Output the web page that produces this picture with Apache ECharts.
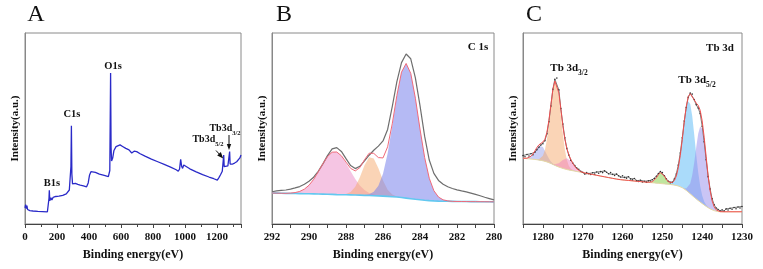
<!DOCTYPE html>
<html>
<head>
<meta charset="utf-8">
<script src="https://cdn.jsdelivr.net/npm/echarts@6/dist/echarts.min.js"></script>
<style>
  html, body { margin: 0; padding: 0; background: #fff; }
  #main { width: 763px; height: 269px; }
</style>
</head>
<body>
<div id="main"></div>
<script>
// ---- A: survey spectrum, [binding energy eV, intensity] ----
const surveyA = [
  [0, 8.5], [4, 10.2], [8, 8.1], [12, 9.6], [16, 7.6], [22, 8.2], [30, 7.0], [50, 6.8], [80, 6.6],
  [110, 6.5], [140, 6.4], [148, 6.6], [150, 13.5], [152, 17.6], [155, 12.2], [158, 11.6], [162, 13.8],
  [168, 12.6], [176, 14.0], [184, 13.2], [192, 14.4], [200, 13.9], [212, 14.6], [224, 14.2], [236, 15.0],
  [248, 14.8], [258, 15.8], [268, 16.6], [277, 17.8], [283, 18.6], [287, 30], [290, 51.5], [293, 26],
  [297, 21], [302, 21.8], [315, 21.3], [330, 20.8], [345, 20.4], [365, 20.0], [385, 19.5], [395, 21.5],
  [403, 25.5], [412, 27.4], [420, 27.8], [440, 27.0], [465, 26.1], [495, 25.4], [521, 24.8], [527, 25.2],
  [530, 28], [535, 79], [538, 40], [541, 33], [548, 34.5], [556, 38.5], [569, 40.5], [580, 41.0],
  [594, 41.4], [610, 40.6], [630, 39.6], [650, 38.8], [667, 37.2], [682, 38.1], [698, 37.9], [720, 36.8],
  [750, 35.5], [790, 34.0], [830, 32.6], [870, 31.2], [910, 29.8], [945, 28.4], [958, 27.6], [966, 28.8],
  [973, 33.9], [979, 30.2], [985, 29.1], [992, 30.9], [1000, 30.3], [1030, 28.9], [1070, 27.3],
  [1110, 25.9], [1150, 24.6], [1180, 23.7], [1202, 23.0], [1212, 24.3], [1222, 25.8], [1233, 27.6],
  [1238, 28.2], [1242, 36.1], [1245, 30.0], [1255, 30.1], [1268, 30.4], [1276, 30.8], [1279, 37.9],
  [1282, 31.4], [1295, 31.3], [1310, 31.9], [1323, 32.6], [1335, 33.4], [1343, 34.6], [1350, 36.1]
];
const ticksA = [0, 200, 400, 600, 800, 1000, 1200];

// ---- B: C 1s, sampled 292 -> 280 eV every 0.25 eV ----
const startB = 292, stepB = 0.25, countB = 49;
const rawB = [
  16.9, 17.3, 17.6, 17.8, 18.3, 18.9, 19.6, 20.8, 22.4, 24.5,
  27.6, 31.5, 35.8, 39.3, 40.0, 38.0, 34.2, 30.6, 29.0, 30.2,
  33.0, 36.0, 38.6, 40.8, 43.5, 49.5, 61.5, 74.5, 84.5, 89.0,
  86.5, 76.5, 62.0, 46.0, 33.5, 26.5, 22.8, 20.8, 19.5, 18.6,
  17.9, 17.3, 16.8, 16.2, 15.5, 14.8, 14.0, 13.3, 12.6
];
const bgB = [
  16.2, 16.15, 16.1, 16.05, 16.0, 15.95, 15.9, 15.85, 15.8, 15.75,
  15.7, 15.65, 15.6, 15.5, 15.4, 15.35, 15.3, 15.25, 15.2, 15.1,
  15.0, 14.9, 14.8, 14.7, 14.6, 14.45, 14.3, 14.1, 13.85, 13.55,
  13.25, 12.95, 12.7, 12.45, 12.25, 12.1, 12.0, 11.95, 11.9, 11.85,
  11.8, 11.78, 11.75, 11.72, 11.7, 11.68, 11.65, 11.62, 11.6
];
// fitted components, height above background, first value at the given energy
const pinkB = [0.20, 0.50, 1.16, 2.40, 4.49, 7.59, 11.6, 15.9, 19.7, 22.1, 22.3, 20.3, 16.7, 12.4, 8.32, 5.03, 2.74, 1.35, 0.60, 0.24, 0.09, 0.03];
const pinkBFrom = 291;
const orangeB = [0.08, 0.39, 1.48, 4.27, 9.39, 15.7, 20.1, 19.5, 14.5, 8.2, 3.53, 1.16, 0.29, 0.06];
const orangeBFrom = 288.25;
const blueB = [0.21, 0.71, 2.10, 5.33, 11.7, 22.4, 37.0, 52.9, 65.6, 70.5, 65.6, 52.9, 37.0, 22.4, 11.7, 5.33, 2.10, 0.71, 0.21];
const blueBFrom = 287;

// ---- C: Tb 3d, sampled 1285 -> 1230 eV every 0.5 eV ----
const startC = 1285, stepC = 0.5, countC = 111;
const rawC = [
  35.8, 35.2, 36.4, 35.6, 36.8, 36.2, 37.6, 38.9, 40.2, 41.4,
  42.0, 43.6, 47.2, 53.5, 61.8, 70.5, 75.8, 76.4, 70.2, 60.5,
  52.3, 45.1, 39.6, 36.1, 33.4, 31.9, 30.6, 29.3, 28.7, 27.6,
  27.1, 26.2, 27.0, 26.4, 25.9, 26.8, 26.1, 27.2, 26.6, 27.4,
  26.9, 27.8, 27.1, 26.3, 26.9, 26.0, 25.4, 26.1, 25.2, 24.6,
  25.3, 24.4, 24.0, 24.7, 23.6, 23.1, 23.8, 22.7, 22.3, 22.9,
  22.0, 22.4, 21.9, 22.6, 22.5, 23.2, 23.8, 25.0, 26.4, 27.5,
  27.0, 25.3, 23.6, 22.4, 21.6, 21.8, 23.5, 26.2, 30.8, 37.2,
  45.1, 53.9, 61.0, 66.3, 68.6, 68.0, 65.1, 62.4, 60.7, 57.8,
  51.2, 43.0, 33.6, 24.8, 18.3, 13.2, 10.1, 8.4, 7.6, 6.9,
  7.4, 6.8, 7.9, 7.3, 8.2, 7.7, 8.6, 8.0, 8.9, 8.4,
  9.2
];
const bgC = [
  34.4, 34.3, 34.2, 34.1, 34.0, 33.9, 33.8, 33.7, 33.5, 33.3,
  33.1, 32.8, 32.5, 32.1, 31.7, 31.2, 30.7, 30.2, 29.8, 29.4,
  29.1, 28.8, 28.5, 28.3, 28.1, 27.9, 27.7, 27.5, 27.3, 27.1,
  26.9, 26.7, 26.5, 26.3, 26.1, 25.9, 25.7, 25.5, 25.3, 25.1,
  24.9, 24.7, 24.5, 24.3, 24.1, 23.9, 23.7, 23.5, 23.4, 23.2,
  23.1, 23.0, 22.9, 22.8, 22.7, 22.6, 22.5, 22.4, 22.3, 22.2,
  22.1, 22.0, 21.9, 21.8, 21.7, 21.6, 21.5, 21.4, 21.3, 21.2,
  21.1, 21.0, 20.9, 20.8, 20.7, 20.6, 20.4, 20.2, 19.9, 19.5,
  19.0, 18.4, 17.6, 16.7, 15.8, 14.9, 14.0, 13.1, 12.3, 11.5,
  10.7, 9.9, 9.2, 8.5, 7.9, 7.4, 7.0, 6.7, 6.5, 6.4,
  6.4, 6.4, 6.4, 6.4, 6.4, 6.4, 6.4, 6.4, 6.4, 6.4,
  6.4
];
const smallC = [0.26, 0.66, 1.46, 2.75, 4.48, 6.3, 7.6, 8.0, 7.2, 5.6, 3.75, 2.17, 1.08, 0.47, 0.17, 0.06];
const smallCFrom = 1284;
const orangeC = [0.03, 0.10, 0.35, 1.03, 2.65, 5.95, 11.7, 19.9, 29.6, 38.5, 43.5, 42.9, 36.9, 27.7, 18.1, 10.3, 5.12, 2.22, 0.84, 0.28, 0.08, 0.02];
const orangeCFrom = 1282;
const pinkC = [0.22, 0.52, 1.07, 1.95, 3.12, 4.41, 5.47, 5.98, 5.76, 4.88, 3.64, 2.39, 1.38, 0.70, 0.31, 0.12, 0.04];
const pinkCFrom = 1277.5;
const greenC = [0.03, 0.15, 0.52, 1.37, 2.82, 4.54, 5.69, 5.54, 4.21, 2.49, 1.15, 0.41, 0.11, 0.02];
const greenCFrom = 1253.5;
const cyanC = [0.04, 0.12, 0.36, 0.95, 2.29, 4.92, 9.5, 16.4, 25.2, 34.8, 43.0, 47.6, 47.0, 41.7, 32.9, 23.3, 14.8, 8.4, 4.27, 1.94, 0.79, 0.29, 0.10, 0.03];
const cyanCFrom = 1249;
const lavC = [0.32, 0.94, 2.41, 5.41, 10.6, 18.1, 26.9, 35.0, 39.6, 39.0, 33.6, 25.2, 16.4, 9.37, 4.66, 2.02, 0.76, 0.25, 0.07, 0.02];
const lavCFrom = 1244.5;

// ---------------------------------------------------------------
const FONT = '"Liberation Serif", "Times New Roman", serif';
const eB = Array.from({ length: countB }, (_, i) => startB - stepB * i);
const eC = Array.from({ length: countC }, (_, i) => startC - stepC * i);

// put a component on the full energy grid (zero outside its range)
function place(grid, from, vals) {
  const i0 = grid.findIndex(e => Math.abs(e - from) < 1e-6);
  return grid.map((e, i) => (i >= i0 && i < i0 + vals.length) ? vals[i - i0] : 0);
}

const compsB = [
  { d: place(eB, pinkBFrom, pinkB), c: 'rgba(236,140,200,0.5)' },
  { d: place(eB, orangeBFrom, orangeB), c: 'rgba(245,170,110,0.5)' },
  { d: place(eB, blueBFrom, blueB), c: 'rgba(120,130,235,0.55)' }
];
const compsC = [
  { d: place(eC, smallCFrom, smallC), c: 'rgba(140,150,235,0.45)' },
  { d: place(eC, orangeCFrom, orangeC), c: 'rgba(245,170,110,0.5)' },
  { d: place(eC, pinkCFrom, pinkC), c: 'rgba(240,130,190,0.5)' },
  { d: place(eC, greenCFrom, greenC), c: 'rgba(140,210,80,0.55)' },
  { d: place(eC, cyanCFrom, cyanC), c: 'rgba(100,190,245,0.55)' },
  { d: place(eC, lavCFrom, lavC), c: 'rgba(150,140,235,0.5)' }
];
// envelope = background + sum of components
const fitB = bgB.map((b, i) => b + compsB.reduce((s, k) => s + k.d[i], 0));
const fitC = bgC.map((b, i) => b + compsC.reduce((s, k) => s + k.d[i], 0));

const grids = [
  { left: 25, top: 33, width: 216, height: 191 },
  { left: 272, top: 33, width: 222, height: 191 },
  { left: 523, top: 33, width: 219, height: 191 }
];

const labelStyle = { color: '#111', fontFamily: FONT, fontWeight: 'bold', fontSize: 11 };
const nameStyle = { color: '#111', fontFamily: FONT, fontWeight: 'bold', fontSize: 12 };

function xCat(gi, grid, labelEvery, tickEvery) {
  return {
    gridIndex: gi, type: 'category', boundaryGap: false,
    data: grid.map(String),
    axisLine: { lineStyle: { color: '#444', width: 1 } },
    axisTick: { length: 4, interval: (i, v) => Number(v) % tickEvery === 0, lineStyle: { color: '#444' } },
    axisLabel: { interval: (i, v) => Number(v) % labelEvery === 0, margin: 8, ...labelStyle },
    splitLine: { show: false },
    name: 'Binding energy(eV)', nameLocation: 'middle', nameGap: 25, nameTextStyle: nameStyle
  };
}

function yAx(gi) {
  return {
    gridIndex: gi, type: 'value', min: 0, max: 100,
    axisLine: { show: true, lineStyle: { color: '#888' } },
    axisTick: { show: false }, axisLabel: { show: false }, splitLine: { show: false },
    name: 'Intensity(a.u.)', nameLocation: 'middle', nameGap: 4, nameTextStyle: { ...nameStyle, fontSize: 11 }
  };
}

const series = [];
series.push({
  type: 'line', xAxisIndex: 0, yAxisIndex: 0, data: surveyA, symbol: 'none',
  lineStyle: { color: '#2a2ac8', width: 1.3 }
});

function addComps(axis, comps, bg, tag) {
  comps.forEach((k, n) => {
    series.push({
      type: 'line', xAxisIndex: axis, yAxisIndex: axis, stack: tag + n, data: bg,
      symbol: 'none', lineStyle: { opacity: 0 }, silent: true, z: 1
    });
    series.push({
      type: 'line', xAxisIndex: axis, yAxisIndex: axis, stack: tag + n, data: k.d,
      symbol: 'none', lineStyle: { opacity: 0 }, areaStyle: { color: k.c, opacity: 1 }, z: 1
    });
  });
}
addComps(1, compsB, bgB, 'b');
addComps(2, compsC, bgC, 'c');

series.push(
  { type: 'line', xAxisIndex: 1, yAxisIndex: 1, data: bgB, symbol: 'none', lineStyle: { color: '#62c8f0', width: 1.6 }, z: 3 },
  { type: 'line', xAxisIndex: 1, yAxisIndex: 1, data: rawB, symbol: 'none', lineStyle: { color: '#6e6e6e', width: 1.2 }, z: 4 },
  { type: 'line', xAxisIndex: 1, yAxisIndex: 1, data: fitB, symbol: 'none', lineStyle: { color: '#f06a7a', width: 1 }, z: 5 },
  { type: 'line', xAxisIndex: 2, yAxisIndex: 2, data: bgC, symbol: 'none', lineStyle: { color: '#e6d9a6', width: 1 }, z: 3 },
  { type: 'line', xAxisIndex: 2, yAxisIndex: 2, data: rawC, symbol: 'circle', symbolSize: 1.6, showAllSymbol: true,
    itemStyle: { color: '#333' }, lineStyle: { color: '#555', width: 0.8 }, z: 4 },
  { type: 'line', xAxisIndex: 2, yAxisIndex: 2, data: fitC, symbol: 'none', lineStyle: { color: '#f05050', width: 1 }, z: 5 }
);

function txt(x, y, text, size, bold) {
  return { type: 'text', x, y, z: 20, style: { text, fill: '#111', align: 'center', verticalAlign: 'middle',
    font: (bold ? 'bold ' : '') + size + 'px ' + FONT } };
}
function subTxt(x, y, main, sub, size) {
  return { type: 'text', x, y, z: 20, style: {
    text: '{a|' + main + '}{s|' + sub + '}', align: 'center', verticalAlign: 'middle', fill: '#111',
    rich: {
      a: { fontSize: size, fontWeight: 'bold', fontFamily: FONT, lineHeight: 14, verticalAlign: 'top', fill: '#111' },
      s: { fontSize: size - 3.5, fontWeight: 'bold', fontFamily: FONT, lineHeight: 14, verticalAlign: 'bottom', fill: '#111' }
    } } };
}

const graphics = [
  txt(36, 15, 'A', 24, false), txt(284, 15, 'B', 24, false), txt(534, 15, 'C', 24, false),
  txt(113, 66, 'O1s', 10.5, true), txt(72, 114, 'C1s', 10.5, true), txt(52, 183, 'B1s', 10.5, true),
  subTxt(208, 141, 'Tb3d', '5/2', 10), subTxt(225, 130, 'Tb3d', '3/2', 10),
  { type: 'line', z: 20, shape: { x1: 216, y1: 150.5, x2: 221.5, y2: 156.5 }, style: { stroke: '#111', lineWidth: 1 } },
  { type: 'polygon', z: 20, shape: { points: [[217.2, 155.4], [220.8, 152], [223.2, 158.4]] }, style: { fill: '#111' } },
  { type: 'line', z: 20, shape: { x1: 229, y1: 135, x2: 229, y2: 145 }, style: { stroke: '#111', lineWidth: 1 } },
  { type: 'polygon', z: 20, shape: { points: [[226.8, 144], [231.2, 144], [229, 150]] }, style: { fill: '#111' } },
  txt(478, 47, 'C 1s', 11, true),
  txt(720, 48, 'Tb 3d', 11, true),
  subTxt(569, 70, 'Tb 3d', '3/2', 11), subTxt(697, 82, 'Tb 3d', '5/2', 11)
];

const chart = echarts.init(document.getElementById('main'), null, { renderer: 'canvas' });
chart.setOption({
  animation: false,
  backgroundColor: '#fff',
  textStyle: { fontFamily: FONT },
  grid: grids.map(g => ({ ...g, show: true, borderColor: '#8a8a8a', borderWidth: 1, backgroundColor: 'transparent' })),
  xAxis: [
    {
      gridIndex: 0, type: 'value', min: 0, max: 1350, interval: 200,
      axisLine: { lineStyle: { color: '#444' } },
      axisTick: { length: 4, lineStyle: { color: '#444' } },
      minorTick: { show: true, splitNumber: 2, length: 3, lineStyle: { color: '#444' } },
      axisLabel: { margin: 8, showMaxLabel: false, formatter: v => ticksA.includes(v) ? String(v) : '', ...labelStyle },
      splitLine: { show: false },
      name: 'Binding energy(eV)', nameLocation: 'middle', nameGap: 25, nameTextStyle: nameStyle
    },
    xCat(1, eB, 2, 1),
    xCat(2, eC, 10, 5)
  ],
  yAxis: [yAx(0), yAx(1), yAx(2)],
  series,
  graphic: graphics
});
</script>
</body>
</html>
